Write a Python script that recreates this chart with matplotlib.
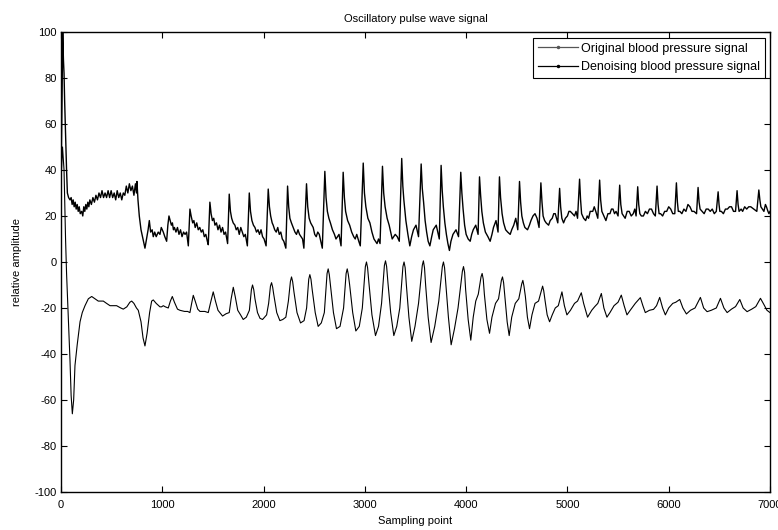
import matplotlib
matplotlib.use("Agg")
import matplotlib.pyplot as plt
from matplotlib.lines import Line2D

plt.rcParams['font.family'] = ['Liberation Sans', 'DejaVu Sans']
plt.rcParams['font.size'] = 8
plt.rcParams['axes.unicode_minus'] = False  # MATLAB风格的负号

# 原始血压信号 (采样点, 幅值)
orig_pts = [
    (0, 35), (10, 70), (17, 100), (24, 88), (30, 82), (36, 70), (45, 55), (55, 40), (63, 30), (75, 28),
    (89, 27), (100, 28), (110, 25), (120, 27), (130, 24), (140, 26), (150, 23), (160, 25), (170, 22), (180, 24),
    (190, 21), (204, 22), (215, 20), (225, 24), (235, 22), (245, 25), (255, 23), (265, 26), (275, 24), (285, 27),
    (300, 25), (315, 28), (330, 26), (345, 29), (360, 27), (375, 30), (390, 28), (405, 31), (420, 28), (435, 30),
    (450, 28), (465, 31), (480, 28), (495, 31), (510, 28), (525, 30), (540, 27), (555, 31), (570, 28), (585, 30),
    (600, 27), (615, 30), (630, 29), (645, 33), (660, 30), (675, 34), (690, 31), (705, 33), (720, 29), (735, 34),
    (745, 30), (750, 35), (760, 27), (773, 20), (790, 14), (810, 10), (829, 6), (845, 10), (860, 14), (872, 18),
    (885, 13), (900, 14), (911, 11), (925, 13), (940, 11), (960, 13), (977, 12), (990, 15), (1010, 13), (1025, 11),
    (1043, 9), (1055, 16), (1066, 20), (1078, 18), (1090, 16), (1100, 17), (1110, 14), (1120, 15), (1135, 13),
    (1150, 15), (1165, 12), (1180, 14), (1195, 11), (1210, 13), (1225, 12), (1240, 13), (1257, 7),
    (1273, 23), (1285, 20), (1300, 17), (1312, 18), (1325, 15), (1340, 17), (1355, 14), (1370, 15), (1385, 13),
    (1400, 14), (1415, 11), (1430, 12), (1445, 9), (1454, 7.5),
    (1470, 26), (1482, 21), (1495, 18), (1508, 19), (1520, 16), (1535, 17), (1550, 14), (1565, 16), (1580, 13),
    (1595, 15), (1610, 12), (1625, 13), (1645, 8),
    (1661, 29.5), (1673, 22), (1685, 19), (1700, 17), (1717, 16), (1730, 14), (1745, 15), (1760, 12), (1775, 15),
    (1790, 13), (1805, 11), (1820, 12), (1840, 7),
    (1859, 30), (1871, 22), (1885, 18), (1900, 16), (1915, 15), (1930, 13), (1945, 14), (1960, 12), (1975, 14),
    (1990, 11), (2005, 10), (2025, 7),
    (2046, 31.7), (2058, 24), (2070, 20), (2085, 17), (2095, 16), (2110, 14), (2125, 13), (2140, 15), (2155, 12),
    (2170, 13), (2185, 10), (2200, 9), (2220, 6),
    (2237, 33), (2248, 24), (2260, 19), (2275, 17), (2293, 15), (2310, 13), (2325, 12), (2340, 14), (2355, 12),
    (2370, 11), (2385, 10), (2398, 6),
    (2424, 34), (2436, 24), (2450, 19), (2465, 17), (2490, 15), (2505, 12), (2520, 11), (2535, 13), (2550, 12),
    (2565, 9), (2580, 6),
    (2605, 39.4), (2617, 28), (2630, 22), (2645, 19), (2660, 17), (2680, 14), (2700, 12), (2715, 10), (2730, 11),
    (2745, 12), (2765, 7),
    (2786, 39), (2798, 28), (2810, 22), (2830, 18), (2850, 16), (2870, 13), (2890, 11), (2905, 10), (2920, 12),
    (2940, 9), (2955, 7),
    (2984, 43), (2996, 30), (3010, 24), (3030, 19), (3050, 17), (3070, 13), (3090, 10), (3105, 9), (3120, 8),
    (3135, 10), (3150, 8),
    (3174, 41.6), (3186, 30), (3200, 24), (3220, 19), (3240, 16), (3255, 13), (3270, 10), (3285, 11), (3300, 12),
    (3320, 11), (3340, 9),
    (3364, 45), (3375, 33), (3385, 27), (3405, 18), (3425, 12), (3444, 7), (3462, 11), (3480, 14), (3505, 16),
    (3530, 11),
    (3556, 42.6), (3567, 32), (3580, 26), (3595, 18), (3610, 13), (3625, 9), (3642, 7), (3660, 11), (3675, 14),
    (3705, 16), (3735, 10),
    (3753, 42), (3764, 31), (3775, 24), (3790, 17), (3805, 12), (3820, 8), (3835, 5), (3850, 9), (3870, 12),
    (3900, 14), (3925, 11),
    (3947, 39), (3958, 30), (3970, 23), (3985, 16), (4000, 12), (4020, 10), (4040, 9), (4055, 12), (4070, 14),
    (4095, 16), (4118, 12),
    (4132, 37), (4143, 29), (4155, 22), (4170, 17), (4190, 13), (4215, 11), (4237, 9), (4255, 12), (4270, 15),
    (4295, 18), (4315, 13),
    (4329, 37), (4340, 28), (4355, 21), (4370, 17), (4390, 14), (4410, 13), (4435, 12), (4450, 14), (4470, 16),
    (4490, 19), (4510, 14),
    (4527, 35), (4538, 26), (4550, 20), (4565, 17), (4580, 15), (4606, 14), (4625, 16), (4640, 18), (4660, 20),
    (4680, 21), (4700, 19), (4720, 15),
    (4738, 34.4), (4749, 26), (4760, 20), (4775, 18), (4790, 17), (4814, 16), (4830, 18), (4850, 19), (4865, 21),
    (4880, 21), (4905, 17),
    (4923, 32), (4933, 24), (4945, 19), (4962, 17), (4980, 19), (5000, 20), (5015, 22), (5028, 22), (5050, 21),
    (5070, 20), (5085, 22), (5100, 19),
    (5120, 36), (5130, 27), (5140, 21), (5160, 19), (5180, 18), (5195, 20), (5209, 19), (5225, 22), (5250, 22),
    (5265, 24), (5280, 22), (5300, 19),
    (5318, 35.6), (5328, 27), (5340, 22), (5360, 20), (5380, 18), (5400, 21), (5420, 21), (5435, 23), (5450, 23),
    (5465, 21), (5480, 22), (5500, 20),
    (5516, 33.4), (5527, 25), (5540, 21), (5555, 20), (5570, 19), (5590, 22), (5610, 22), (5630, 20), (5650, 21),
    (5665, 23), (5678, 20),
    (5694, 32.7), (5704, 25), (5715, 21), (5730, 20), (5750, 20), (5770, 22), (5790, 21), (5810, 23), (5830, 23),
    (5850, 21), (5868, 20),
    (5885, 33), (5895, 25), (5905, 21), (5920, 21), (5940, 20), (5960, 22), (5980, 22), (6000, 24), (6020, 23),
    (6040, 21), (6060, 21),
    (6076, 34.4), (6086, 26), (6095, 22), (6110, 22), (6130, 21), (6150, 23), (6170, 22), (6190, 25), (6210, 24),
    (6230, 22), (6250, 22), (6275, 21),
    (6290, 32.4), (6300, 26), (6310, 23), (6330, 22), (6350, 21), (6370, 23), (6390, 23), (6410, 22), (6430, 23),
    (6450, 21), (6470, 22),
    (6488, 30.5), (6497, 25), (6505, 22), (6520, 22), (6540, 21), (6560, 23), (6580, 23), (6600, 24), (6620, 24),
    (6640, 22), (6660, 22),
    (6675, 31), (6685, 25), (6695, 22), (6715, 23), (6730, 22), (6750, 24), (6770, 23), (6790, 24), (6810, 24),
    (6840, 23), (6870, 22),
    (6890, 31.3), (6900, 27), (6910, 24), (6925, 23), (6940, 22), (6955, 25), (6965, 24), (6980, 22), (6990, 21),
    (7000, 22),
]

# 去噪后的信号
den_pts = [
    (0, 35), (15, 50), (30, 40), (45, 10), (55, -5), (72, -24), (89, -43), (100, -58), (112, -66), (125, -60),
    (138, -45), (160, -36), (188, -26), (210, -22), (237, -19), (270, -16), (303, -15), (335, -16), (368, -17),
    (418, -17), (450, -18), (484, -19), (549, -19), (590, -20), (615, -20.5), (650, -19.5), (680, -17.5),
    (698, -17), (720, -18), (745, -20), (763, -21), (790, -26), (810, -33), (829, -36.5), (850, -31), (875, -22),
    (895, -17), (911, -16.5), (940, -18), (977, -19.5), (993, -19.5), (1010, -19), (1030, -19.5), (1059, -20),
    (1080, -17), (1099, -15), (1120, -17.5), (1150, -20.5), (1174, -21), (1220, -21.5), (1250, -21.5),
    (1273, -22), (1290, -18), (1306, -14.5), (1325, -17), (1350, -20.5), (1372, -21.5), (1420, -21.5),
    (1454, -22), (1475, -18), (1503, -13), (1525, -17), (1550, -21), (1595, -23.5), (1630, -22.5), (1661, -22),
    (1680, -16), (1701, -11), (1720, -15), (1745, -21), (1773, -23), (1799, -25), (1830, -24), (1860, -21),
    (1880, -12), (1891, -10), (1903, -12), (1915, -16), (1940, -22), (1965, -24.5), (1990, -25), (2030, -23),
    (2050, -18), (2068, -10.5), (2079, -9), (2090, -11), (2100, -14), (2130, -22), (2161, -25.5), (2190, -25),
    (2220, -24), (2245, -17), (2265, -8.5), (2276, -6.5), (2287, -8.5), (2300, -13), (2330, -22), (2365, -26.5),
    (2400, -25.5), (2425, -20), (2446, -7.5), (2457, -5.5), (2468, -7.5), (2480, -12), (2510, -22), (2539, -28),
    (2570, -26.5), (2600, -22), (2627, -5), (2638, -3), (2649, -5.5), (2660, -10), (2690, -22), (2720, -29),
    (2755, -28), (2790, -20), (2815, -5), (2826, -3), (2837, -5.5), (2850, -10), (2880, -22), (2911, -30),
    (2945, -28), (2975, -20), (3005, -2), (3016, 0), (3027, -2.5), (3040, -9), (3070, -23), (3105, -32),
    (3135, -28), (3165, -18), (3193, -1.5), (3204, 0.5), (3215, -2), (3228, -9), (3255, -22), (3286, -32),
    (3315, -28), (3345, -20), (3376, -2), (3387, 0), (3398, -2.5), (3410, -10), (3435, -24), (3463, -34.5),
    (3495, -28), (3530, -18), (3567, -1.5), (3578, 0.5), (3589, -2.5), (3600, -10), (3625, -24), (3654, -35),
    (3690, -28), (3730, -17), (3765, -2), (3776, 0), (3787, -2.5), (3800, -10), (3825, -24), (3852, -36),
    (3885, -29), (3920, -20), (3963, -4), (3974, -2), (3985, -4.5), (3995, -12), (4020, -25), (4046, -34),
    (4070, -24), (4095, -17), (4120, -14), (4147, -6.5), (4158, -5), (4169, -7.5), (4180, -14), (4205, -25),
    (4231, -31), (4255, -24), (4290, -18), (4320, -16), (4348, -8), (4359, -6.5), (4370, -9), (4380, -14),
    (4405, -26), (4425, -32), (4450, -24), (4485, -18), (4520, -16), (4549, -9.5), (4560, -8), (4571, -10.5),
    (4585, -15), (4605, -24), (4626, -29), (4650, -23), (4680, -18), (4715, -17), (4745, -12), (4755, -10.5),
    (4766, -12.5), (4780, -17), (4800, -23), (4824, -26), (4850, -23), (4880, -20), (4910, -19), (4946, -13),
    (4970, -19), (4995, -23), (5030, -21), (5070, -18), (5100, -17), (5137, -13.4), (5160, -18), (5199, -24),
    (5240, -21), (5270, -19.4), (5300, -18), (5335, -13.7), (5360, -20), (5390, -24), (5420, -22), (5460, -19),
    (5500, -17.5), (5532, -14.4), (5560, -19), (5588, -23), (5620, -21), (5670, -18), (5720, -15.5),
    (5745, -19), (5769, -22), (5810, -21), (5850, -20.6), (5880, -19), (5911, -15.4), (5940, -20), (5967, -23),
    (6000, -20), (6040, -18), (6070, -17.5), (6109, -16.3), (6140, -20), (6175, -22.6), (6215, -21),
    (6260, -20), (6313, -15.4), (6345, -20), (6379, -21.6), (6420, -21), (6470, -20), (6511, -15.8),
    (6545, -20), (6577, -22), (6620, -20.5), (6660, -19.4), (6702, -16.3), (6735, -20), (6774, -21.6),
    (6820, -20.5), (6860, -19.4), (6906, -15.8), (6940, -18.5), (6970, -21), (7000, -22),
]

x_ticks = [0, 1000, 2000, 3000, 4000, 5000, 6000, 7000]
y_ticks = [-100, -80, -60, -40, -20, 0, 20, 40, 60, 80, 100]
legend_labels = ['Original blood pressure signal', 'Denoising blood pressure signal']

fig = plt.figure(figsize=(7.78, 5.30), dpi=100)
ax = fig.add_axes([0.0784, 0.0717, 0.9113, 0.868])

ox = [p[0] for p in orig_pts]
oy = [p[1] for p in orig_pts]
dx = [p[0] for p in den_pts]
dy = [p[1] for p in den_pts]

ax.plot(ox, oy, color='black', linewidth=1.0)
ax.plot(dx, dy, color='black', linewidth=0.8)

ax.set_xlim(0, 7000)
ax.set_ylim(-100, 100)
ax.set_xticks(x_ticks)
ax.set_yticks(y_ticks)
ax.tick_params(direction='in', length=4, width=0.8, top=True, right=True, labelsize=8)
ax.tick_params(axis='x', pad=6)
ax.tick_params(axis='y', pad=3)
for s in ax.spines.values():
    s.set_linewidth(1.0)

ax.set_title('Oscillatory pulse wave signal', fontsize=8, pad=7)
ax.set_xlabel('Sampling point', fontsize=8, labelpad=4)
ax.set_ylabel('relative amplitude', fontsize=8, labelpad=9)

handles = [Line2D([], [], color='#555555', linewidth=0.9, marker='.', markersize=3),
           Line2D([], [], color='black', linewidth=0.9, marker='.', markersize=3)]
leg = ax.legend(handles, legend_labels, loc='upper right', bbox_to_anchor=(0.993, 0.987),
                borderaxespad=0, fontsize=9, fancybox=False, framealpha=1, edgecolor='black',
                handlelength=3.2, handletextpad=0.25, borderpad=0.38, labelspacing=0.5)
leg.get_frame().set_linewidth(0.8)

fig.savefig('out.png', dpi=100)
